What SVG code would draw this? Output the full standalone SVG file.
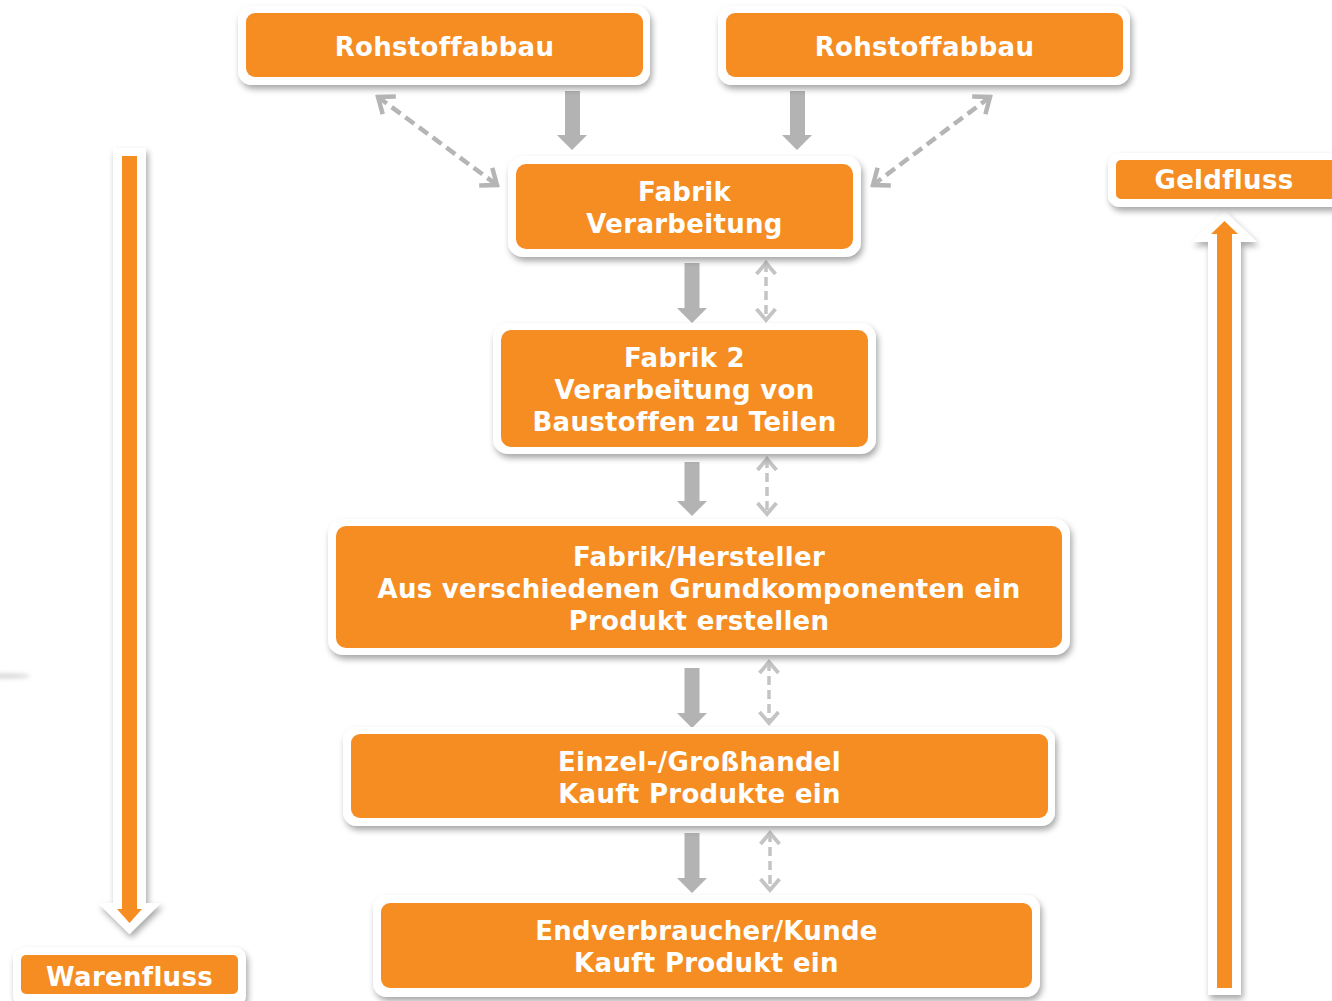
<svg xmlns="http://www.w3.org/2000/svg" width="1332" height="1001" viewBox="0 0 1332 1001">
<style>
.outer{fill:#ffffff;filter:url(#sh)}
.inner{fill:#F58D22}
.t{font-family:"DejaVu Sans",Verdana,sans-serif;font-weight:bold;font-size:26px;letter-spacing:0.3px;fill:#ffffff;text-anchor:middle}
.solid{fill:#b3b3b3}
.dd{fill:none;stroke:#b5b5b5;stroke-width:4.5;stroke-dasharray:11 6}
.dv{fill:none;stroke:#c4c4c4;stroke-width:3.5;stroke-dasharray:9 5}
</style>
<defs>
<filter id="sh" x="-10%" y="-20%" width="120%" height="150%">
<feDropShadow dx="2" dy="4" stdDeviation="3" flood-color="#000" flood-opacity="0.35"/>
</filter>
<filter id="blur" x="-50%" y="-200%" width="200%" height="500%"><feGaussianBlur stdDeviation="2"/></filter>
<marker id="md" viewBox="-16 -14 19 28" refX="0" refY="0" markerWidth="19" markerHeight="28" markerUnits="userSpaceOnUse" orient="auto-start-reverse">
<path d="M-14,-11 L0,0 L-14,11" fill="none" stroke="#b5b5b5" stroke-width="4.5"/>
</marker>
<marker id="mv" viewBox="-14 -13 17 26" refX="0" refY="0" markerWidth="17" markerHeight="26" markerUnits="userSpaceOnUse" orient="auto-start-reverse">
<path d="M-11,-9.5 L0,0 L-11,9.5" fill="none" stroke="#c4c4c4" stroke-width="3.8"/>
</marker>
</defs>
<rect width="1332" height="1001" fill="#ffffff"/>
<ellipse cx="6" cy="676" rx="24" ry="2.5" fill="#999" opacity="0.4" filter="url(#blur)"/>

<g id="warenfluss-arrow">
<polygon class="outer" points="113,148 146,148 146,903 161,903 129.5,934 98,903 113,903"/>
<polygon class="inner" points="122,156 137,156 137,909 142,909 129.5,923 117,909 122,909"/>
</g>
<g id="geldfluss-arrow">
<polygon class="outer" points="1208,995 1241,995 1241,242 1257,242 1224.5,211 1192,242 1208,242"/>
<polygon class="inner" points="1217,988 1232,988 1232,234 1238,234 1224.5,221 1211,234 1217,234"/>
</g>

<g id="connectors">
<polygon class="solid" points="565,91 580,91 580,135 587,135 572,150 557,135 565,135"/>
<polygon class="solid" points="790,91 805,91 805,135 812,135 797,150 782,135 790,135"/>
<polygon class="solid" points="684.5,263 699.5,263 699.5,308 707,308 692,323 677,308 684.5,308"/>
<polygon class="solid" points="684.5,462 699.5,462 699.5,501 707,501 692,516 677,501 684.5,501"/>
<polygon class="solid" points="684.5,668 699.5,668 699.5,713 707,713 692,728 677,713 684.5,713"/>
<polygon class="solid" points="684.5,833 699.5,833 699.5,878 707,878 692,893 677,878 684.5,878"/>
<line class="dd" x1="378" y1="97" x2="497" y2="185" marker-start="url(#md)" marker-end="url(#md)"/>
<line class="dd" x1="990" y1="97" x2="873" y2="185" marker-start="url(#md)" marker-end="url(#md)"/>
<line class="dv" x1="766" y1="263" x2="766" y2="320" marker-start="url(#mv)" marker-end="url(#mv)"/>
<line class="dv" x1="767" y1="459" x2="767" y2="514" marker-start="url(#mv)" marker-end="url(#mv)"/>
<line class="dv" x1="769" y1="662" x2="769" y2="723" marker-start="url(#mv)" marker-end="url(#mv)"/>
<line class="dv" x1="770" y1="833" x2="770" y2="890" marker-start="url(#mv)" marker-end="url(#mv)"/>
</g>

<g id="rohstoff1">
<rect class="outer" x="238" y="6" width="412" height="79" rx="14"/>
<rect class="inner" x="246" y="13" width="397" height="64" rx="9"/>
<text class="t" x="444.5" y="56">Rohstoffabbau</text>
</g>
<g id="rohstoff2">
<rect class="outer" x="718" y="6" width="412" height="79" rx="14"/>
<rect class="inner" x="726" y="13" width="397" height="64" rx="9"/>
<text class="t" x="924.5" y="56">Rohstoffabbau</text>
</g>
<g id="fabrik">
<rect class="outer" x="508" y="156" width="353" height="101" rx="15"/>
<rect class="inner" x="516" y="164" width="337" height="85" rx="10"/>
<text class="t" x="684.5" y="201">Fabrik</text>
<text class="t" x="684.5" y="233">Verarbeitung</text>
</g>
<g id="fabrik2">
<rect class="outer" x="493" y="323" width="383" height="131" rx="15"/>
<rect class="inner" x="501" y="330" width="367" height="117" rx="10"/>
<text class="t" x="684.5" y="367">Fabrik 2</text>
<text class="t" x="684.5" y="399">Verarbeitung von</text>
<text class="t" x="684.5" y="431">Baustoffen zu Teilen</text>
</g>
<g id="hersteller">
<rect class="outer" x="328" y="519" width="742" height="136" rx="15"/>
<rect class="inner" x="336" y="526" width="726" height="122" rx="10"/>
<text class="t" x="699" y="566">Fabrik/Hersteller</text>
<text class="t" x="699" y="598">Aus verschiedenen Grundkomponenten ein</text>
<text class="t" x="699" y="630">Produkt erstellen</text>
</g>
<g id="handel">
<rect class="outer" x="343" y="727" width="712" height="99" rx="14"/>
<rect class="inner" x="351" y="734" width="697" height="84" rx="9"/>
<text class="t" x="699.5" y="771">Einzel-/Großhandel</text>
<text class="t" x="699.5" y="803">Kauft Produkte ein</text>
</g>
<g id="endverbraucher">
<rect class="outer" x="373" y="895" width="667" height="102" rx="14"/>
<rect class="inner" x="381" y="903" width="651" height="85" rx="9"/>
<text class="t" x="706.5" y="940">Endverbraucher/Kunde</text>
<text class="t" x="706.5" y="972">Kauft Produkt ein</text>
</g>
<g id="warenfluss">
<rect class="outer" x="13" y="947" width="233" height="60" rx="12"/>
<rect class="inner" x="21" y="955" width="217" height="39" rx="5"/>
<text class="t" x="129.5" y="986">Warenfluss</text>
</g>
<g id="geldfluss">
<rect class="outer" x="1108" y="153" width="240" height="54" rx="12"/>
<rect class="inner" x="1116" y="160" width="230" height="39" rx="5"/>
<text class="t" x="1224" y="189">Geldfluss</text>
</g>
</svg>
